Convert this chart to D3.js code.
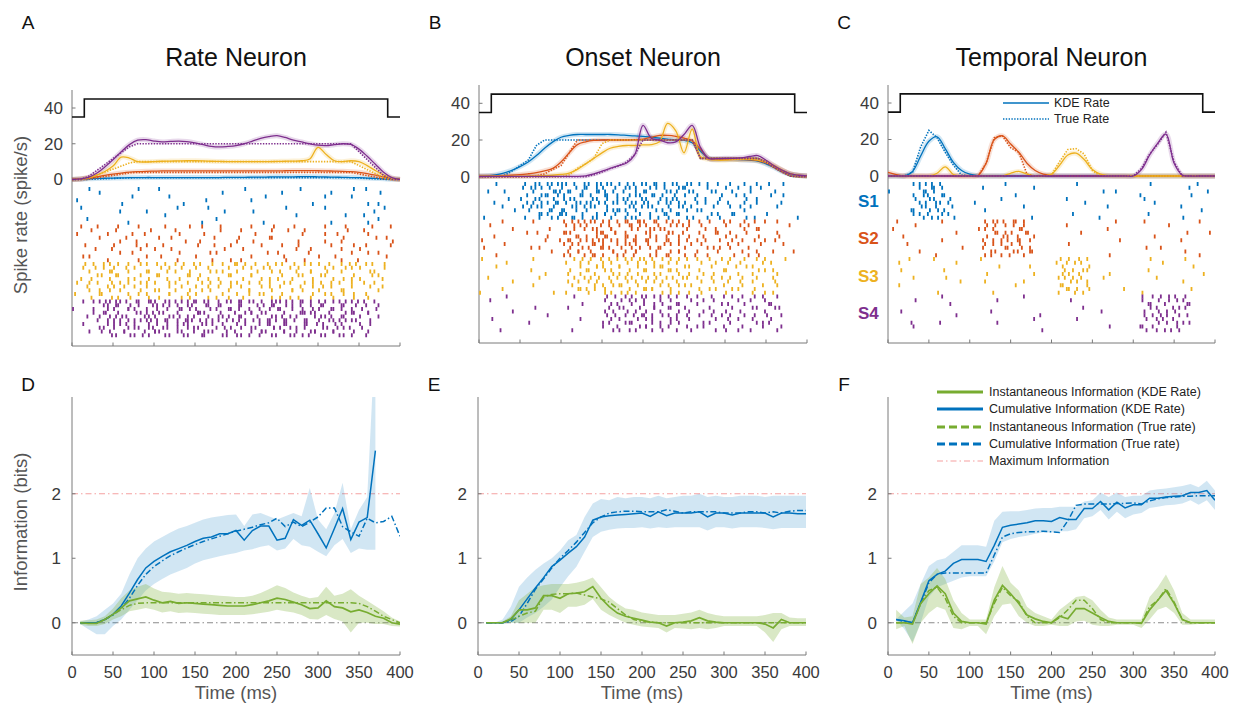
<!DOCTYPE html>
<html><head><meta charset="utf-8">
<script src="https://cdn.jsdelivr.net/npm/d3@7"></script>
<style>
body{margin:0;background:#fff}
svg{display:block}
text{font-family:"Liberation Sans",Arial,Helvetica,sans-serif}
</style>
</head><body>
<svg id="chart" width="1243" height="707"></svg>
<script>
// ---------------- DATA ----------------
const rateTimes=[0,10,20,30,40,50,60,70,80,90,100,110,120,130,140,150,160,170,180,190,200,210,220,230,240,250,260,270,280,290,300,310,320,330,340,350,360,370,380,390,400];
const stimTimes=[0,15,15,385,385,400];
const stimLevels=[35,35,45,45,35,35];
const rateTicks=[0,20,40];
const timeTicks=[0,50,100,150,200,250,300,350,400];
const infoTicks=[0,1,2];
const stimLabels=['S1','S2','S3','S4'];
const panelTitles=['Rate Neuron','Onset Neuron','Temporal Neuron'];
const rateLegend=['KDE Rate','True Rate'];
const infoLegend=['Instantaneous Information (KDE Rate)','Cumulative Information (KDE Rate)','Instantaneous Information (True rate)','Cumulative Information (True rate)','Maximum Information'];

// Panel A rates (stim S1..S4)
const A_blue_kde=[0,0.2,0.4,0.6,0.7,0.8,0.9,1,1,1.1, 1.1,1.1,1.1,1.1,1.1,1.1,1.1,1.1,1.1,1.2, 1.2,1.2,1.3,1.3,1.4,1.5,1.5,1.5,1.6,1.6, 1.5,1.4,1.3,1.2,1.1,1,0.8,0.6,0.4,0.2,0.1];
const A_blue_true=[0,0,0.1,0.25,0.4,0.6,0.75,0.9,1,1, 1,1,1,1,1,1,1,1,1,1, 1,1,1,1,1,1,1,1,1,1, 1,1,1,1,1,0.8,0.55,0.33,0.1,0,0];
const A_orange_kde=[0,0.3,0.8,1.5,2.3,3,3.6,4.1,4.4,4.6, 4.7,4.8,4.8,4.8,4.8,4.8,4.8,4.8,4.8,4.8, 4.8,4.8,4.8,4.8,4.8,4.8,4.9,5,5,5, 4.9,4.8,4.7,4.6,4.4,4,3.3,2.4,1.4,0.5,0.1];
const A_orange_true=[0,0,0.3,1,1.7,2.3,3,3.7,4,4, 4,4,4,4,4,4,4,4,4,4, 4,4,4,4,4,4,4,4,4,4, 4,4,4,4,4,3.1,2.2,1.3,0.4,0,0];
const A_yellow_kde=[0,0.3,1,2.5,4.5,7.5,12.5,12,10,9.8, 10,10.2,10.3,10.4,10.5,10.5,10.4,10.2,10.1,10, 10,10,10,10,10,10.1,10.2,10.3,10.5,11.5, 18,14,10.5,10,10.5,10,7.8,5,2.5,0.6,0];
const A_yellow_true=[0,0,0.8,2.5,4.2,5.8,7.5,9.2,10,10, 10,10,10,10,10,10,10,10,10,10, 10,10,10,10,10,10,10,10,10,10, 10,10,10,10,10,7.8,5.5,3.3,1,0,0];
const A_purple_kde=[0,0.3,1.2,3.5,7,11,15.5,19.5,22,22.3, 21.5,21,21.3,21.5,21.2,20.5,19.5,18.5,18.2,18.5, 19,20,21.5,23,24,24.5,23.5,22,21,20, 19.2,19,19.5,20,19.6,17,13,8.5,4,1,0];
const A_purple_true=[0,0,1.7,5,8.3,11.7,15,18.3,20,20, 20,20,20,20,20,20,20,20,20,20, 20,20,20,20,20,20,20,20,20,20, 20,20,20,20,20,15.6,11.1,6.7,2.2,0,0];

// Panel B rates
const B_blue_kde=[0.3,0.5,1,2,3.5,5.5,8,11.5,15.5,19, 21.5,22.5,23,23,23,23,23,22.8,22.5,22.2, 22,21.5,21,20.5,20,19.8,18.5,14,10,9.5, 9.5,9.5,9.3,9,8.5,7,5,2.7,1.2,0.6,0.4];
const B_blue_true=[0,0,0,0.5,3,6,9,17,20,20, 20,20,20,20,20,20,20,20,20,20, 20,20,20,20,20,20,20,10,10,10, 10,10,10,10,10,8,5,2.5,0.3,0,0];
const B_orange_kde=[0.3,0.3,0.4,0.6,0.8,1.1,1.6,2.2,3.2,4.5, 8,13,17.5,19,19.8,20,20,20,20,20.2, 20.5,21.5,22.5,22.5,22,21,19.5,15,10,9.5, 9.5,9.5,9.3,9.2,8.8,7.5,5.5,3.3,1.5,0.7,0.4];
const B_orange_true=[0,0,0,0,0,0,0,0.5,1.5,4, 6,13,20,20,20,20,20,20,20,20, 20,20,20,20,20,20,20,10,10,10, 10,10,10,10,10,8,5,2.5,0.3,0,0];
const B_yellow_kde=[0.3,0.3,0.3,0.3,0.3,0.3,0.4,0.5,0.6,0.8, 1.2,2,4,7,10,13,15.5,16.5,17,17, 17.3,17.5,19,29,25,13,26,11,9.5,9, 9,9.3,9.5,9.5,9,8,6,3.5,1.5,0.7,0.4];
const B_yellow_true=[0,0,0,0,0,0,0,0,0,0, 0,1,4.5,7,10,18,20,20,20,20, 20,20,20,20,20,20,20,10,10,10, 10,10,10,10,10,8,5,2.5,0.3,0,0];
const B_purple_kde=[0.2,0.2,0.2,0.2,0.2,0.2,0.2,0.2,0.2,0.2, 0.2,0.2,0.2,0.5,1.5,3,4.5,6,7.5,12, 28,21,20,18.5,19,23,28,16,10,9.8, 10,10,10.3,11,11.5,9,6,3.5,1.5,0.8,0.4];
const B_purple_true=[0,0,0,0,0,0,0,0,0,0, 0,0,0,0,1,2.5,4.5,5.8,8,12, 20,20,20,20,20,20,20,10,10,10, 10,10,10,10,10,8,5,2.5,0.3,0,0];

// Panel C rates
const C_blue_kde=[0,0,0,2.5,11,19,21.5,15,7.5,3, 1,0.2,0,0,0,0,0,0,0,0, 0,0,0,0,0,0,0,0,0,0, 0,0,0,0,0,0,0,0,0,0,0];
const C_blue_true=[0,0,0,2,16,25,21,13,6,0.5, 0,0,0,0,0,0,0,0,0,0, 0,0,0,0,0,0,0,0,0,0, 0,0,0,0,0,0,0,0,0,0,0];
const C_orange_kde=[2,0.8,0,0,0,0,0,0,0,0, 0,0.3,7,20,22,17.5,13,7,3,1, 0.3,0,0,0,0,0,0,0,0,0, 0,0,0,0,0,0,0,0,0,0,0];
const C_orange_true=[0,0,0,0,0,0,0,0,0,0, 0,0,7,21,22,15.5,13,1,0,0, 0,0,0,0,0,0,0,0,0,0, 0,0,0,0,0,0,0,0,0,0,0];
const C_yellow_kde=[0,0,0,0,0,0,1.5,5,0.8,0, 0,0,0,0,0,1.5,2.5,1,0,0, 1,6,11.5,12.5,9,3.5,1,0.2,0,0, 0,0,0,0,0,0,0,0,0,0,0];
const C_yellow_true=[0,0,0,0,0,0,0,0,0,0, 0,0,0,0,0,0,0,0,0,0, 0.5,8,14.5,15,12,3,0,0,0,0, 0,0,0,0,0,0,0,0,0,0,0];
const C_purple_kde=[0,0,0,0,0,0,0,0,0,0, 0,0,0,0,0,0,0,0,0,0, 0,0,0,0,0,0,0,0,0,0, 0,3.5,11.5,18,23,7,0.5,0,0,0,0];
const C_purple_true=[0,0,0,0,0,0,0,0,0,0, 0,0,0,0,0,0,0,0,0,0, 0,0,0,0,0,0,0,0,0,0, 0,4,12,17.5,24,7.5,0,0,0,0,0];

// Raster rows: 80 bins of 5 ms; digit d (1-8) = spike, sub-position from d
const rasterA_blue=[
"....3..... ......5... .1........ .......... ..7....... .....2.... ........4. .6........",
"......2... .......... ...8...... ......4... .......... .1........ ...5...... .....3....",
".7........ ....2..... .......... ..6....... .......3.. .......... .4......1. ..........",
".......... ..5....... .......7.. .......... ...2...... ........6. .......... ..3.8.....",
"..1....... .......... .....4.... ...3...... .......... ..7....... .2........ ......5...",
".......... .6......3. .......... .......1.. ....5..... .......... ......8... ...2......",
"...8...... .......... ..2....... .....7.... .......... ....4..... .......... .1..6.....",
".......... ...4...... .......... .8........ ......6... .......... ...3...... ..5......."];
const rasterA_orange=[
"..3...5... .1....7... ..4.....2. .6....3... ...8.....1 ....5..... .2....6... ...7...4..",
"....6..... 2...8....3 .....1.... ..7...5... .3......6. ..2...4... ....8..1.. .5........",
".1......4. ...5...2.. .7....3... ....6..... 8...2...5. ......1... .4....7... ..3...6...",
"......2... .8...4.... ....1..6.. .3........ 5...7...2. .....3.... .6...8.... ....1...5.",
"...7...... 3....6..1. ..5....... 4...2...8. ......7... .1...5.... ...3....6. .2.....4..",
".....4...2 ......6... 1...3..... ...8...5.. .2........ 7...4...1. .....6.... 3...8.....",
"..8....... .4..2...7. ......3... 5....1.... ...6...4.. .8.....2.. ....7...3. ..1.......",
"....1...6. ......3... .2...8.... ....7...4. .5........ ..3...6... 1....4...8 ......2..."];
const rasterA_yellow=[
"...3.5.2.7 .1.4..6.3. 8.2..5.1.4 .7..3.6..2 5.1.8..4.6 .3..7.2.5. 1.6..4.8.3 .2.5..7...",
"..6..2.4.8 3..5.1..7. .4.6..2.8. 1..3.7..5. .2.4..6.1. 8..3.5..7. .4.2..6.1. 3..8..5...",
"....1.7..3 .5.2..8.4. 6..1.3..5. .7.4..2.6. 3..8.1..4. .5..2.7.3. 6.1..4..8. ..2.6.....",
"..7.4..1.5 2..6.3..8. .1.5..7.2. 4..3.6..1. .8.2..5.7. 3..4.1..6. .2.8..3.5. 7..1.4....",
".1..5.3..6 .8.2..4.7. 3..6.1..5. .2.8..3.4. 7..5.2..1. .6.3..8.4. 2..7.5..1. .3.6......",
"...2..8.4. 1.6..3..5. .7.2..4.8. 3..1.6..2. .5.7..3.1. 4..8.2..6. .1.5..7.3. ..4..2....",
"6...3..7.1 .4.8..2.5. 1..6.3..7. .4.2..8.1. 5..3.6..2. .7.4..1.8. 3..5.2..6. .8..4.....",
"....8.2..4 .3..7.1.6. .5.2..4.8. 1..7.3..5. .6.1..2.4. 8..5.7..3. .2.6..1.4. ..7......."];
const rasterA_purple=[
"..4..38.15 26.7.41.83 5.62.74.18 3.57.2.64. 81.35.7.26 4.18.63.5. 72.4.18.36 .5.2......",
".....7.26. 41.83.5.72 6.14.28.35 7.61.43.8. 25.7.16.43 8.52.47.1. 63.8.25.71 .4..6.....",
"1....5.82. 37.4.16.58 2.73.61.4. 85.2.37.16 4.58.2.73. 16.4.85.27 3.61.48.5. 2.7.3.....",
"...6..4.17 8.35.2.64. 71.48.3.56 2.17.84.3. 65.2.71.48 .3.56.2.17 84.3.65.2. 7.1.4.....",
"......3.6. 52.8.14.73 6.25.8.41 7.36.52.8. 14.7.36.25 8.41.7.63. .5.28.14.7 3..6......",
"..2...8.4. 16.3.57.28 4.71.6.35 8.24.1.67. .3.58.2.41 7.63.8.25. 4.17.36.8. .5.2......",
"....5..2.7 3.84.1.62. 57.3.48.16 2.75.3.84. .1.62.57.3 48.16.2.75 .3.84.1.6. 2.5.......",
".......1.6 4.2.73.58. 1.46.2.37. .85.1.64.2 73.5.81.46 .2.37.58.1 64.2.73.5. .8........"];

const rasterB_blue=[
"....3..... .5.28.46.1 73.5.82.64 .17.3.58.2 6.41.7.35. 82.6.4..7. .5..2..8.. 6...3.....",
"......7... 2.64.1.57. 38.2.61.47 5.83.26.1. 74.5.38.26 1.7..4.8.. 3..5..1.6. ..7.......",
"..1....... .8.3.57.24 6.1.83.52. 47.6.18.35 2.7.64.81. .3.5..2..7 .4..6.1... ....5.....",
".......5.. 3..46.2.71 8.53.1.64. 27.8.35.16 4.2.78.53. 1.6..3..8. ..2..7.4.. .1........",
"...8...... .2.7.14.63 .5.82.37.1 6.48.2.75. 31.6.84.2. 7..5.1..3. 6...8..2.. ...4......",
".....2.... 6.4.31.85. 7.26.4.13. .58.7.62.4 .13.8.5.26 .4..7..1.. .3.6..5... ..2.......",
"........4. ..1.65.3.8 27.4.51.6. 83.2.47.15 .6.3.82.7. 4..1..6.5. .8..2..... 7.........",
".3........ .7..4.28.5 1.63.7.48. 2.51.6.37. .8.4.15.2. 6.3..8..4. ..1..5.7.. .......6.."];
const rasterB_orange=[
".....6.... ...3...... 8.2.54.71. 36.8.25.47 1.63.8.52. .7.4..3..6 .1..8..5.2 ..4.......",
"..2....... .......7.. .5.36.1.84 .27.5.63.1 48.2.74.36 .5..1..8.. 3..6.4..7. .....2....",
"........1. ....5..... 6.73.2.48. 5.17.6.32. .84.1.57.6 2..8.3..5. .7..2..4.. ..6.......",
"...4...... .2....6... .1.85.3.62 47.1.83.5. 26.7.41.8. .3..6..2.. 5.8..1..7. ...3......",
"6......... ......3..8 .47.2.16.5 3.58.4.27. 61.3.85.2. 4..7.1..6. .2..5..3.8 ..1.......",
"......5... ..8....... 2.6.37.41. 58.2.64.17 .3.8.52.6. .4..1..7.. 6..3.8..2. ....5.....",
".1........ ....4..6.. .83.5.27.4 1.6.48.35. .2.71.6.8. 3..5.2..4. .1..7..6.. .8........",
"....7..... .......... 4.5.18.63. 7.24.5.81. .6.3.47.2. 5.8..6..1. ..3..4..7. ......2..."];
const rasterB_yellow=[
"2......... ...5...... ...7.3.1.6 .4.8.2.5.3 7.1.6.4.8. 2..5..3..7 .1..4..6.2 ....8.....",
"......4... .......... .1..6.2.8. 5.3.7.1.4. 6.2.8.5.3. .7..1..4.. 6..2..8..5 .3........",
"....1..... ..6....... ..5.2.8.4. 1.7.3.6.2. 8.4.1.5.7. 3..6..2..8 ..4..1..7. .6........",
".......... ......3... .8..4.1.7. 2.6.5.3.8. 1.4.7.2.6. .5..8..3.. 1..7..4..2 ..6.......",
"..7....... ....2..... ...3.6.5.1 .8.2.4.7.6 .3.1.8.5.2 4..7..6..1 .3..5..8.. .2........",
"........3. .......... .6..1.4.2. 7.5.8.3.1. 4.6.2.7.5. .8..3..1.. 6..4..2..7 ..5.......",
".....8.... ...1...... ..2.7.5.3. 6.4.1.8.2. 5.7.3.6.4. 1..8..5..2 .6..3..7.. ..4.......",
"3......... ........5. .7..2.6.1. 4.3.8.5.7. 2.1.6.4.8. .3..7..2.. 5..1..6..4 .8........"];
const rasterB_purple=[
"......2... .......... ...7...... .5.3.8.1.6 4.2.7.5.3. 8..1..6..4 .2..7..3.5 ..8.......",
"..4....... .......... .......... 2.7.4.6.1. 3.8.5.2.7. .4..6..1.. 8..3..5..2 .7........",
".......... ...6...... .....1.... .8.2.5.3.7 1.6.4.8.2. 5..3..7..1 .6..4..8.. 2..5......",
"........5. .......... .2........ 4.6.1.7.3. 8.2.5.1.6. .7..4..3.. 5..8..2..6 ..1.......",
".......... ......8... .......... .3.7.2.4.8 5.1.6.3.7. 2..4..8..5 .1..6..3.. 7..4......",
"...1...... .......... ....6..... 7.5.3.8.2. 4.1.7.6.5. .3..8..2.. 6..1..4..7 .5........",
".......... ..3....... .......... .2.6.4.1.5 8.3.7.2.4. 6..5..1..8 .3..7..2.. 4..6......",
".....5.... .......... ..8....... 1.4.7.6.3. 2.5.8.1.7. .6..2..4.. 3..7..5..1 ..8......."];

const rasterC_blue=[
"......38.5 2.6....... ........4. .......... ......7... .......... ....1..... .....6....",
".......2.7 41.5...... ...3...... .....6.... .......... ..8....... .......... ...2......",
"1.....5.48 .3.6...... .......... .7........ .......... .....2.... .8........ ........3.",
"......6.2. 75.1.3.... .......8.. .......... ...4...... .......... ..6....... ....1.....",
".......4.1 .86.2..... .5........ .......... ........3. .......... .....7.... ..........",
"......7.35 .2.8.4.... .......... ...1...... .......... ...6...... .......... .2........",
".....2.6.8 3.17...... ...4...... .......... .....5.... .......... ...8...... ......4...",
"......1.4. 6.5.2.7... .......... .....3.... .......... .8........ .......... ..5......."];
const rasterC_orange=[
"..5....... ...3...... ...6.28.1. 47.5...... .......... .....8.... ..2....... ......7...",
"......4... .......... ..7.5.3.6. 2.81...... ...4...... .......... ........6. ..........",
".1........ ......6... ...2.46.8. 5.3.7..... .......... ...2...... .......... ...5......",
"...8...... .......... ....7.1.53 .6.2.4.... .......1.. .......... .....3.... ........2.",
".......... ...5...... ...3.8.6.1 .27.4..... .......... ......6... .......... .4........",
"....2..... .......... ...6.4.2.7 3.5.8..... ....1..... .......... ...7...... ..........",
".......6.. ........3. ...1.57.2. 8.4.6..... .......... .......... ......2... ..8.......",
".......... .4........ ...8.3.6.4 .2.7.1.... .......... ....5..... .......... ......3..."];
const rasterC_yellow=[
".....3.... .7........ ..4....... .......... ..5.7.2.6. .......... ....1..... ..8.......",
"..6....... ......2... .......... ....8..... .1.4.6.3.. .......... .......5.. ..........",
".......... ...8...... .......3.. .......... ..27.5.8.1 .......... ...6...... ....2.....",
"...1...... .......... ....5..... .....4.... ..6.3.8.2. ....7..... .......... .......3..",
"......7... ....3..... .......... .......... .4.1.5.7.. ..2....... .....8.... ..........",
".......... .......6.. ...2...... ...5...... ..8.6.3.4. .......... .......... ..1.......",
"..4....... .......... .......... .1........ ..3.7.5.2. .......6.. .......... ....7.....",
".......... ..5....... .....8.... .......... .6.2.4.8.1 .......... ..3....... .........."];
const rasterC_purple=[
".......... ...3...... .......... ...7...... .......... .......... ..5.2.8.4. 1.6.......",
"......4... .......... ......2... .......... ....6..... .......... ..1.7.3.6. 2.58......",
".......... .....1.... .......... .......... .......8.. .......... ...4.6.2.8 .5.3......",
"...5...... .......... .....7.... .......... .......... ..3....... ..6.1.5.3. 7.2.......",
".......... ......6... .......... .......3.. .......... .......... ..8.4.2.7. .1.5......",
".....8.... .......... .......... .....2.... ......5... .......... ...3.6.1.4 8.7.......",
".......... ..2....... ......4... .......... .......... ....7..... ..5.8.3.1. 6..2......",
"......1... .......... .......... .......6.. .......... .......... .2.7.4.8.5 .3........"];

// Information (bits), t = 10..400 ms
const infoTimes=[10,20,30,40,50,60,70,80,90,100,110,120,130,140,150,160,170,180,190,200,210,220,230,240,250,260,270,280,290,300,310,320,330,340,350,360,370,380,390,400];
const D_cumKDE=[0,0,0,0.05,0.13,0.26,0.46,0.67,0.85,0.95, 1.03,1.10,1.15,1.2,1.26,1.31,1.33,1.38,1.38,1.43, 1.28,1.43,1.5,1.5,1.28,1.31,1.6,1.51,1.59,1.38, 1.16,1.46,1.77,1.29,1.56,1.63,2.67,null,null,null];
const D_cumKDE_hi=[0.02,0.05,0.1,0.2,0.3,0.45,0.75,1.0,1.15,1.26, 1.33,1.4,1.46,1.5,1.55,1.6,1.63,1.65,1.67,1.68, 1.5,1.68,1.7,1.65,1.6,1.65,1.7,1.65,2.09,1.6, 1.45,1.7,2.17,1.45,1.75,1.95,4.5,null,null,null];
const D_cumKDE_lo=[-0.02,-0.1,-0.18,-0.18,-0.05,0.05,0.2,0.35,0.5,0.6, 0.68,0.75,0.8,0.85,0.92,0.97,1.0,1.03,1.06,1.08, 1.12,1.14,1.18,1.2,1.12,1.15,1.3,1.2,1.18,1.1, 1.03,1.2,1.3,1.08,1.15,1.13,1.13,null,null,null];
const D_cumTrue=[0,0,0,0.05,0.12,0.22,0.38,0.58,0.75,0.87, 0.96,1.04,1.1,1.16,1.21,1.26,1.3,1.34,1.38,1.42, 1.45,1.48,1.52,1.55,1.62,1.49,1.56,1.49,1.56,1.64, 1.78,1.78,1.49,1.41,1.34,1.62,1.55,1.57,1.65,1.34];
const D_instKDE=[0,-0.01,-0.01,0.05,0.13,0.23,0.34,0.37,0.4,0.35, 0.31,0.33,0.3,0.31,0.3,0.29,0.28,0.27,0.26,0.26, 0.26,0.28,0.31,0.34,0.38,0.36,0.32,0.28,0.22,0.23, 0.34,0.25,0.23,0.17,0.2,0.16,0.1,0.07,0.0,-0.02];
const D_instKDE_hi=[0.03,0.04,0.05,0.1,0.22,0.38,0.5,0.56,0.6,0.53, 0.48,0.47,0.45,0.46,0.45,0.44,0.43,0.42,0.41,0.4, 0.4,0.42,0.46,0.52,0.58,0.54,0.47,0.42,0.38,0.4, 0.56,0.42,0.45,0.52,0.42,0.34,0.26,0.18,0.08,0.02];
const D_instKDE_lo=[-0.03,-0.05,-0.05,-0.02,0.05,0.1,0.18,0.2,0.23,0.2, 0.16,0.18,0.15,0.16,0.15,0.14,0.13,0.12,0.12,0.12, 0.12,0.13,0.15,0.17,0.2,0.18,0.16,0.12,0.06,0.05, 0.12,0.06,0.02,-0.15,0.0,0.0,-0.02,-0.02,-0.05,-0.06];
const D_instTrue=[0,0,0,0.05,0.13,0.2,0.27,0.3,0.31,0.31, 0.31,0.31,0.31,0.31,0.31,0.31,0.31,0.31,0.31,0.31, 0.31,0.31,0.31,0.31,0.31,0.31,0.31,0.31,0.31,0.31, 0.31,0.31,0.31,0.31,0.3,0.25,0.18,0.1,0.05,0];

const E_cumKDE=[0,0,0,0.05,0.2,0.37,0.54,0.7,0.87,0.97, 1.08,1.18,1.33,1.59,1.64,1.66,1.67,1.68,1.69,1.7, 1.65,1.72,1.66,1.7,1.7,1.7,1.72,1.64,1.7,1.7, 1.67,1.7,1.7,1.7,1.7,1.64,1.7,1.7,1.69,1.69];
const E_cumKDE_hi=[0,0,0.05,0.25,0.56,0.7,0.82,0.92,1.0,1.12, 1.28,1.36,1.64,1.85,1.92,1.9,1.95,1.93,1.95,1.95, 1.93,1.97,1.93,1.95,1.97,1.97,2.0,1.95,1.97,1.95, 1.95,1.97,1.97,1.97,1.95,1.97,1.97,1.97,1.97,1.97];
const E_cumKDE_lo=[0,0,0,0,0,0.08,0.15,0.25,0.36,0.55, 0.72,0.87,1.1,1.33,1.41,1.44,1.46,1.47,1.47,1.48, 1.46,1.48,1.47,1.48,1.48,1.48,1.48,1.43,1.48,1.48, 1.46,1.48,1.48,1.48,1.47,1.45,1.47,1.47,1.47,1.47];
const E_cumTrue=[0,0,0,0.02,0.1,0.3,0.52,0.68,0.85,1.0, 1.12,1.25,1.4,1.55,1.64,1.7,1.72,1.73,1.73,1.72, 1.72,1.72,1.75,1.73,1.7,1.72,1.72,1.72,1.72,1.7, 1.7,1.7,1.72,1.72,1.7,1.72,1.7,1.73,1.74,1.74];
const E_instKDE=[0,0,0,0.06,0.2,0.2,0.23,0.42,0.42,0.38, 0.45,0.46,0.48,0.56,0.38,0.25,0.15,0.1,0.07,0.04, 0.01,0,-0.05,0,0.01,0.03,0.08,0.03,0.01,0, 0,0,0,0,-0.02,-0.08,0.05,0,0,0];
const E_instKDE_hi=[0,0,0.02,0.1,0.35,0.45,0.55,0.58,0.6,0.6, 0.6,0.62,0.65,0.7,0.55,0.4,0.3,0.22,0.2,0.16, 0.14,0.12,0.12,0.12,0.14,0.16,0.2,0.15,0.12,0.1, 0.1,0.1,0.1,0.1,0.12,0.15,0.15,0.08,0.07,0.07];
const E_instKDE_lo=[0,0,0,0,0,0,0,0.2,0.2,0.15, 0.25,0.25,0.28,0.37,0.2,0.12,0.06,0,-0.03,-0.06, -0.07,-0.08,-0.15,-0.08,-0.09,-0.1,-0.08,-0.1,-0.08,-0.05, -0.05,-0.05,-0.05,-0.05,-0.15,-0.3,-0.1,-0.05,-0.05,-0.05];
const E_instTrue=[0,0,0,0.04,0.1,0.15,0.18,0.4,0.44,0.45, 0.45,0.46,0.43,0.4,0.37,0.32,0.22,0.12,0.05,0.02, 0.01,0,0,0,0,0,0,0,0,0, 0,0,0,0,0,0,0,0,0,0];

const F_cumKDE=[0.05,0.03,0,0.32,0.65,0.75,0.8,0.92,0.98,0.98, 0.98,0.95,1.2,1.48,1.51,1.53,1.55,1.58,1.58,1.57, 1.63,1.6,1.6,1.77,1.77,1.88,1.75,1.87,1.78,1.83, 1.83,1.93,1.93,1.95,1.96,1.97,2.02,2.02,2.05,1.9];
const F_cumKDE_hi=[0.05,0.18,0.3,0.6,0.88,0.97,1.0,1.1,1.2,1.2, 1.2,1.18,1.58,1.72,1.73,1.73,1.75,1.77,1.78,1.78, 1.8,1.8,1.8,1.88,1.9,2.02,1.95,2.02,1.95,1.97, 1.97,2.05,2.07,2.08,2.1,2.12,2.15,2.1,2.2,2.05];
const F_cumKDE_lo=[0.05,-0.1,-0.3,0,0.4,0.55,0.6,0.65,0.7,0.72, 0.72,0.72,0.95,1.25,1.3,1.33,1.35,1.38,1.4,1.4, 1.42,1.42,1.45,1.62,1.65,1.75,1.6,1.72,1.62,1.68, 1.7,1.78,1.8,1.82,1.83,1.85,1.9,1.83,1.9,1.75];
const F_cumTrue=[0.05,0.02,0,0.3,0.62,0.75,0.77,0.77,0.77,0.77, 0.77,0.77,1.05,1.33,1.38,1.4,1.41,1.41,1.42,1.41, 1.4,1.58,1.82,1.84,1.84,1.84,1.84,1.85,1.85,1.86, 1.84,1.89,1.92,1.94,1.95,1.96,1.96,1.97,1.97,1.97];
const F_instKDE=[0,0,-0.02,0.3,0.45,0.57,0.45,0.15,0.02,0, 0,-0.02,0.35,0.58,0.45,0.3,0.12,0.06,0.02,0, 0.1,0.06,0.22,0.22,0.15,0.08,0.02,0,0,0, -0.01,0.2,0.35,0.5,0.3,0.05,0,0,0,0];
const F_instKDE_hi=[0.2,0.08,0.1,0.6,0.7,0.85,0.68,0.35,0.15,0.05, 0.05,0.05,0.55,0.88,0.62,0.5,0.25,0.15,0.1,0.05, 0.2,0.3,0.4,0.42,0.35,0.2,0.08,0.05,0.05,0.05, 0.05,0.4,0.55,0.75,0.5,0.15,0.05,0.05,0.05,0.05];
const F_instKDE_lo=[-0.1,-0.05,-0.33,0,0.15,0.25,0.2,-0.08,-0.1,-0.05, -0.05,-0.18,0.1,0.28,0.3,0.1,0,-0.05,-0.05,-0.03, -0.05,-0.05,0.02,0.03,-0.03,-0.05,-0.05,-0.03,-0.03,-0.03, -0.08,0.05,0.2,0.25,0.15,-0.03,-0.03,-0.02,-0.02,-0.02];
const F_instTrue=[0,0,0,0.3,0.5,0.55,0.38,0.1,0,0, 0,0,0.3,0.55,0.42,0.33,0.1,0,0,0, 0.08,0.2,0.35,0.35,0.22,0.05,0,0,0,0, 0,0.25,0.35,0.53,0.32,0.05,0,0,0,0];

// ---------------- STYLE / LAYOUT ----------------
const COL={blue:'#0072BD',orange:'#D95319',yellow:'#EDB120',purple:'#7E2F8E',green:'#77AC30'};
const stimColors=[COL.blue,COL.orange,COL.yellow,COL.purple];
const AXIS='#7a7a7a', TXT='#3a3a3a';
const TRIAL_ROWS=10; // displayed trial rows per stimulus

const topPanels=[
 {letter:'A',title:panelTitles[0],x0:72,x1:400,yTop:90,yZero:179.5,yForty:108,yBottom:346,rTop:187,rBottom:337,
  kde:[A_blue_kde,A_orange_kde,A_yellow_kde,A_purple_kde],tru:[A_blue_true,A_orange_true,A_yellow_true,A_purple_true],
  raster:[rasterA_blue,rasterA_orange,rasterA_yellow,rasterA_purple]},
 {letter:'B',title:panelTitles[1],x0:479,x1:807,yTop:85,yZero:176.7,yForty:103.3,yBottom:343,rTop:182,rBottom:332,
  kde:[B_blue_kde,B_orange_kde,B_yellow_kde,B_purple_kde],tru:[B_blue_true,B_orange_true,B_yellow_true,B_purple_true],
  raster:[rasterB_blue,rasterB_orange,rasterB_yellow,rasterB_purple]},
 {letter:'C',title:panelTitles[2],x0:888,x1:1215,yTop:85,yZero:176,yForty:103,yBottom:343,rTop:182,rBottom:332,
  kde:[C_blue_kde,C_orange_kde,C_yellow_kde,C_purple_kde],tru:[C_blue_true,C_orange_true,C_yellow_true,C_purple_true],
  raster:[rasterC_blue,rasterC_orange,rasterC_yellow,rasterC_purple],labels:true,legend:true}
];
const botPanels=[
 {letter:'D',x0:72,x1:400,cum:D_cumKDE,cumHi:D_cumKDE_hi,cumLo:D_cumKDE_lo,cumT:D_cumTrue,inst:D_instKDE,instHi:D_instKDE_hi,instLo:D_instKDE_lo,instT:D_instTrue},
 {letter:'E',x0:478,x1:806,cum:E_cumKDE,cumHi:E_cumKDE_hi,cumLo:E_cumKDE_lo,cumT:E_cumTrue,inst:E_instKDE,instHi:E_instKDE_hi,instLo:E_instKDE_lo,instT:E_instTrue},
 {letter:'F',x0:888,x1:1215,cum:F_cumKDE,cumHi:F_cumKDE_hi,cumLo:F_cumKDE_lo,cumT:F_cumTrue,inst:F_instKDE,instHi:F_instKDE_hi,instLo:F_instKDE_lo,instT:F_instTrue,legend:true}
];
const BOT_TOP=397, BOT_BOTTOM=655;

const svg=d3.select('#chart');

// ---------------- TOP PANELS ----------------
topPanels.forEach((p,pi)=>{
  const g=svg.append('g');
  const x=d3.scaleLinear().domain([0,400]).range([p.x0,p.x1]);
  const y=d3.scaleLinear().domain([0,40]).range([p.yZero,p.yForty]);
  const trial=d3.scaleLinear().domain([0,4*TRIAL_ROWS]).range([p.rTop,p.rBottom]);

  svg.append('text').attr('x',(p.x0+p.x1)/2).attr('y',66).attr('text-anchor','middle')
     .attr('font-size',25).attr('fill','#111').text(p.title);
  svg.append('text').attr('x',p.x0-44).attr('y',29).attr('text-anchor','middle')
     .attr('font-size',19).attr('fill','#111').text(p.letter);

  g.append('line').attr('x1',p.x0).attr('x2',p.x0).attr('y1',p.yTop).attr('y2',p.yBottom).attr('stroke',AXIS).attr('stroke-width',1);
  g.append('line').attr('x1',p.x0).attr('x2',p.x1).attr('y1',p.yBottom).attr('y2',p.yBottom).attr('stroke',AXIS).attr('stroke-width',1);
  timeTicks.forEach(t=>{
    g.append('line').attr('x1',x(t)).attr('x2',x(t)).attr('y1',p.yBottom).attr('y2',p.yBottom-3.5).attr('stroke',AXIS);
  });
  rateTicks.forEach(v=>{
    g.append('line').attr('x1',p.x0).attr('x2',p.x0+3.5).attr('y1',y(v)).attr('y2',y(v)).attr('stroke',AXIS);
    g.append('text').attr('x',p.x0-9).attr('y',y(v)).attr('dy','0.35em').attr('text-anchor','end')
      .attr('font-size',17).attr('fill',TXT).text(v);
  });

  const stimLine=d3.line().x((d,i)=>x(stimTimes[i])).y(d=>y(d));
  g.append('path').attr('d',stimLine(stimLevels)).attr('fill','none').attr('stroke','#111').attr('stroke-width',1.6);

  const kdeLine=d3.line().x((d,i)=>x(rateTimes[i])).y(d=>y(d)).curve(d3.curveCatmullRom.alpha(0.5));
  const truLine=d3.line().x((d,i)=>x(rateTimes[i])).y(d=>y(d));
  p.kde.forEach((vals,k)=>{
    g.append('path').attr('d',kdeLine(vals)).attr('fill','none').attr('stroke',stimColors[k]).attr('stroke-width',5).attr('stroke-opacity',0.18).attr('stroke-linejoin','round');
  });
  p.kde.forEach((vals,k)=>{
    g.append('path').attr('d',kdeLine(vals)).attr('fill','none').attr('stroke',stimColors[k]).attr('stroke-width',1.3);
    g.append('path').attr('d',truLine(p.tru[k])).attr('fill','none').attr('stroke',stimColors[k]).attr('stroke-width',1.6).attr('stroke-dasharray','1.4,1.4');
  });

  const rg=g.append('g');
  p.raster.forEach((rows,k)=>{
    rows.forEach((row,r)=>{
      const s=row.replace(/ /g,'');
      for(let i=0;i<s.length;i++){
        const c=s[i]; if(c==='.') continue;
        const d=+c-1;
        const t=i*5+(d%2)*2.5+1.25;
        if(t>400) continue;
        const tr=k*TRIAL_ROWS+Math.floor((r*4+Math.floor(d/2))*TRIAL_ROWS/32);
        rg.append('rect').attr('x',x(t)-0.9).attr('y',trial(tr)).attr('width',1.8).attr('height',4)
          .attr('fill',stimColors[k]);
      }
    });
  });

  if(p.labels){
    stimLabels.forEach((lab,k)=>{
      svg.append('text').attr('x',p.x0-30).attr('y',trial(k*TRIAL_ROWS+TRIAL_ROWS/2)).attr('dy','0.36em')
        .attr('font-size',17).attr('font-weight','bold').attr('fill',stimColors[k]).text(lab);
    });
  }
  if(p.legend){
    const lx=1003, ly=[103,119];
    g.append('line').attr('x1',lx).attr('x2',lx+46).attr('y1',ly[0]).attr('y2',ly[0]).attr('stroke',COL.blue).attr('stroke-width',1.3);
    g.append('line').attr('x1',lx).attr('x2',lx+46).attr('y1',ly[1]).attr('y2',ly[1]).attr('stroke',COL.blue).attr('stroke-width',1.5).attr('stroke-dasharray','1.4,1.4');
    rateLegend.forEach((lab,i)=>{
      g.append('text').attr('x',lx+51).attr('y',ly[i]).attr('dy','0.35em').attr('font-size',12.5).attr('fill','#222').text(lab);
    });
  }
});

svg.append('text').attr('transform','translate(27,215) rotate(-90)').attr('text-anchor','middle')
   .attr('font-size',18.5).attr('fill','#555').text('Spike rate (spike/s)');
svg.append('text').attr('transform','translate(27,522) rotate(-90)').attr('text-anchor','middle')
   .attr('font-size',18.5).attr('fill','#555').text('Information (bits)');

// ---------------- BOTTOM PANELS ----------------
botPanels.forEach((p,pi)=>{
  const g=svg.append('g');
  const x=d3.scaleLinear().domain([0,400]).range([p.x0,p.x1]);
  const y=d3.scaleLinear().domain([-0.5,3.5]).range([BOT_BOTTOM,BOT_TOP]);
  const cid='clip'+p.letter;
  svg.append('clipPath').attr('id',cid).append('rect').attr('x',p.x0).attr('y',BOT_TOP).attr('width',p.x1-p.x0).attr('height',BOT_BOTTOM-BOT_TOP);

  svg.append('text').attr('x',p.x0-44).attr('y',391).attr('text-anchor','middle')
     .attr('font-size',19).attr('fill','#111').text(p.letter);

  const pg=g.append('g').attr('clip-path',`url(#${cid})`);
  pg.append('line').attr('x1',x(0)).attr('x2',x(400)).attr('y1',y(2)).attr('y2',y(2))
    .attr('stroke','#f5a0a0').attr('stroke-width',1).attr('stroke-dasharray','6,3,1.5,3');
  pg.append('line').attr('x1',x(0)).attr('x2',x(400)).attr('y1',y(0)).attr('y2',y(0))
    .attr('stroke','#8a8a8a').attr('stroke-width',1).attr('stroke-dasharray','6,3,1.5,3');

  const area=(hi,lo)=>d3.area().defined((d,i)=>hi[i]!==null&&lo[i]!==null)
     .x((d,i)=>x(infoTimes[i])).y0((d,i)=>y(lo[i])).y1((d,i)=>y(hi[i]));
  const line=d3.line().defined(d=>d!==null).x((d,i)=>x(infoTimes[i])).y(d=>y(d));

  pg.append('path').attr('d',area(p.cumHi,p.cumLo)(p.cumHi)).attr('fill',COL.blue).attr('fill-opacity',0.18);
  pg.append('path').attr('d',area(p.instHi,p.instLo)(p.instHi)).attr('fill',COL.green).attr('fill-opacity',0.28);

  pg.append('path').attr('d',line(p.cumT)).attr('fill','none').attr('stroke',COL.blue).attr('stroke-width',1.5).attr('stroke-dasharray','6,2.5,1.5,2.5');
  pg.append('path').attr('d',line(p.instT)).attr('fill','none').attr('stroke',COL.green).attr('stroke-width',1.5).attr('stroke-dasharray','6,2.5,1.5,2.5');
  pg.append('path').attr('d',line(p.cum)).attr('fill','none').attr('stroke',COL.blue).attr('stroke-width',1.5);
  pg.append('path').attr('d',line(p.inst)).attr('fill','none').attr('stroke',COL.green).attr('stroke-width',1.7);

  g.append('line').attr('x1',p.x0).attr('x2',p.x0).attr('y1',BOT_TOP).attr('y2',BOT_BOTTOM).attr('stroke',AXIS);
  g.append('line').attr('x1',p.x0).attr('x2',p.x1).attr('y1',BOT_BOTTOM).attr('y2',BOT_BOTTOM).attr('stroke',AXIS);
  timeTicks.forEach(t=>{
    g.append('line').attr('x1',x(t)).attr('x2',x(t)).attr('y1',BOT_BOTTOM).attr('y2',BOT_BOTTOM-3.5).attr('stroke',AXIS);
    g.append('text').attr('x',x(t)).attr('y',BOT_BOTTOM+17).attr('dy','0.35em').attr('text-anchor','middle')
      .attr('font-size',16.5).attr('fill',TXT).text(t);
  });
  infoTicks.forEach(v=>{
    g.append('line').attr('x1',p.x0).attr('x2',p.x0+3.5).attr('y1',y(v)).attr('y2',y(v)).attr('stroke',AXIS);
    g.append('text').attr('x',p.x0-11).attr('y',y(v)).attr('dy','0.35em').attr('text-anchor','end')
      .attr('font-size',17).attr('fill',TXT).text(v);
  });
  svg.append('text').attr('x',(p.x0+p.x1)/2).attr('y',699).attr('text-anchor','middle')
     .attr('font-size',18.5).attr('fill','#555').text('Time (ms)');

  if(p.legend){
    const lx=937, rows=[392,409,427,444,461];
    const st=[
      {c:COL.green,w:3.2,dash:null},{c:COL.blue,w:3.2,dash:null},
      {c:COL.green,w:3.2,dash:'8,4'},{c:COL.blue,w:3.2,dash:'8,4'},
      {c:'#f5a0a0',w:1.2,dash:'6,3,1.5,3'}];
    infoLegend.forEach((lab,i)=>{
      const l=g.append('line').attr('x1',lx).attr('x2',lx+46).attr('y1',rows[i]).attr('y2',rows[i])
        .attr('stroke',st[i].c).attr('stroke-width',st[i].w);
      if(st[i].dash) l.attr('stroke-dasharray',st[i].dash);
      g.append('text').attr('x',lx+52).attr('y',rows[i]).attr('dy','0.35em').attr('font-size',12.5).attr('fill','#222').text(lab);
    });
  }
});
</script>
</body></html>
